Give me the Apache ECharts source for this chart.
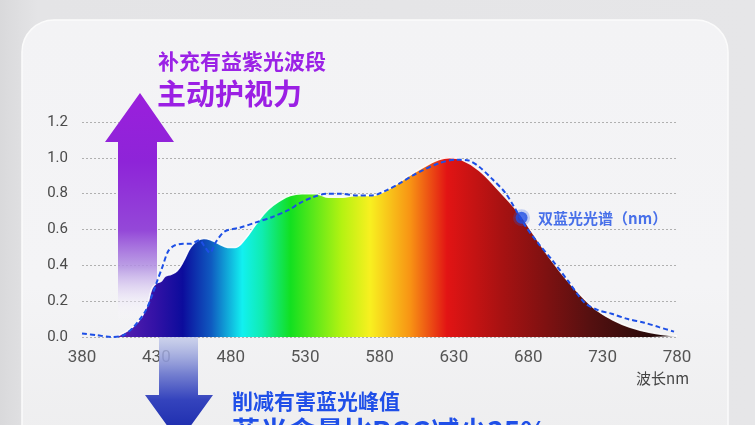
<!DOCTYPE html>
<html>
<head>
<meta charset="utf-8">
<script src="https://cdn.jsdelivr.net/npm/echarts/dist/echarts.min.js"></script>
<style>
  html, body { margin: 0; padding: 0; background: #e3e3e5; }
  #main { width: 755px; height: 425px; }
</style>
</head>
<body>
<div id="main"></div>
<script>
var xTicks = [380, 430, 480, 530, 580, 630, 680, 730, 780];
var yTicks = [0, 0.2, 0.4, 0.6, 0.8, 1.0, 1.2];

// spectrum of the lamp (filled rainbow area)
var spectrumNm = [398, 405, 414, 420, 424, 427, 430, 433, 436, 440, 444, 448, 453, 458, 462, 467, 472, 478, 483, 490,
    497, 505, 513, 520, 528, 537, 546, 555, 565, 575, 587, 598, 610, 620, 627, 635, 647, 660, 674, 683,
    692, 701, 710, 718, 726, 737, 748, 762, 780];
var spectrumVal = [0, 0.01, 0.055, 0.11, 0.18, 0.27, 0.30, 0.31, 0.34, 0.35, 0.37, 0.42, 0.50, 0.54, 0.55, 0.54, 0.52, 0.50, 0.50, 0.55,
    0.63, 0.71, 0.76, 0.79, 0.80, 0.80, 0.78, 0.78, 0.79, 0.79, 0.83, 0.89, 0.95, 0.99, 1.0, 0.99, 0.93, 0.82, 0.69, 0.58,
    0.47, 0.37, 0.28, 0.21, 0.15, 0.095, 0.056, 0.025, 0.005];

// dual blue spectrum (dashed line)
var dualNm = [380, 390, 400, 408, 414, 419, 423, 427, 430, 434, 438, 442, 448, 453, 459, 462, 466, 470, 476, 486,
    497, 508, 519, 527, 535, 545, 553, 565, 575, 585, 594, 602, 609, 620, 632, 640, 647, 656, 665, 678,
    687, 696, 707, 718, 727, 736, 747, 758, 768, 778];
var dualVal = [0.02, 0.01, 0.0, 0.01, 0.05, 0.10, 0.15, 0.23, 0.30, 0.39, 0.48, 0.51, 0.52, 0.52, 0.54, 0.51, 0.47, 0.53, 0.59, 0.61,
    0.64, 0.67, 0.71, 0.75, 0.78, 0.80, 0.80, 0.79, 0.79, 0.82, 0.86, 0.90, 0.93, 0.97, 0.99, 0.985, 0.95, 0.88, 0.80, 0.62,
    0.52, 0.43, 0.31, 0.19, 0.15, 0.13, 0.10, 0.08, 0.055, 0.03];

var markNm = [675.5];
var markVal = [0.665];
var markName = '双蓝光光谱（nm）';

function pairs(xs, ys) {
    var out = [];
    for (var i = 0; i < xs.length; i++) {
        out.push([xs[i], ys[i]]);
    }
    return out;
}

var FONT = '"Noto Sans CJK SC", "Noto Sans", sans-serif';
var NUMFONT = 'Roboto, "Noto Sans", sans-serif';
var chart = echarts.init(document.getElementById('main'));

var option = {
    animation: false,
    backgroundColor: new echarts.graphic.LinearGradient(0, 0, 1, 0, [
        {offset: 0, color: '#d9d9db'},
        {offset: 0.05, color: '#e4e4e6'},
        {offset: 1, color: '#e6e6e8'}
    ]),
    textStyle: {fontFamily: FONT},
    grid: {left: 82, right: 78, top: 122, bottom: 88},
    xAxis: {
        type: 'value',
        min: xTicks[0],
        max: xTicks[xTicks.length - 1],
        interval: 50,
        axisLine: {show: false},
        axisTick: {show: false},
        splitLine: {show: false},
        axisLabel: {color: '#555', fontSize: 17, margin: 12, fontFamily: NUMFONT}
    },
    yAxis: {
        type: 'value',
        min: yTicks[0],
        max: yTicks[yTicks.length - 1],
        interval: 0.2,
        axisLine: {show: false},
        axisTick: {show: false},
        axisLabel: {
            color: '#4a4a4a', fontSize: 15, margin: 14, fontFamily: NUMFONT,
            formatter: function (v) { return v.toFixed(1); }
        },
        splitLine: {lineStyle: {type: [2, 2], color: '#b0b0b0', width: 1}}
    },
    graphic: [
        {   // card
            type: 'rect', z: -100,
            shape: {x: 22, y: 20, width: 706, height: 440, r: 32},
            style: {
                fill: new echarts.graphic.LinearGradient(0, 0, 0, 1, [
                    {offset: 0, color: '#f3f3f5'},
                    {offset: 0.6, color: '#f4f4f6'},
                    {offset: 1, color: '#ededee'}
                ]),
                stroke: '#fbfbfb', lineWidth: 1.5
            }
        },
        {   // purple up arrow
            type: 'polygon', z: 1,
            shape: {points: [[140, 93], [174, 142], [157, 142], [157, 322], [118, 322], [118, 142], [105, 142]]},
            style: {
                fill: new echarts.graphic.LinearGradient(0, 0, 0, 1, [
                    {offset: 0, color: '#9a1fdc'},
                    {offset: 0.3, color: '#8e24d8'},
                    {offset: 0.6, color: '#9448d8'},
                    {offset: 0.76, color: 'rgba(178,145,226,0.85)'},
                    {offset: 0.9, color: 'rgba(235,228,248,0.5)'},
                    {offset: 1, color: 'rgba(255,255,255,0)'}
                ])
            }
        },
        {   // blue down arrow
            type: 'polygon', z: 1,
            shape: {points: [[159, 337], [198, 337], [198, 395], [213, 395], [179, 442], [145, 395], [159, 395]]},
            style: {
                fill: new echarts.graphic.LinearGradient(0, 0, 0, 1, [
                    {offset: 0, color: 'rgba(190,198,232,0.7)'},
                    {offset: 0.35, color: '#7580d0'},
                    {offset: 0.6, color: '#3443bd'},
                    {offset: 1, color: '#1424a8'}
                ])
            }
        },
        {
            type: 'text', z: 5, left: 158, top: 51,
            style: {text: '补充有益紫光波段', fill: '#9b22e6', font: 'bold 21px ' + FONT}
        },
        {
            type: 'text', z: 5, left: 157, top: 79,
            style: {text: '主动护视力', fill: '#9b1fe4', font: 'bold 29px ' + FONT}
        },
        {
            type: 'text', z: 5, left: 232, top: 391,
            style: {text: '削减有害蓝光峰值', fill: '#1f4fe8', font: 'bold 21px ' + FONT}
        },
        {
            type: 'text', z: 5, left: 232, top: 417,
            style: {text: '蓝光含量比RGG减少35%', fill: '#1f4fe8', font: 'bold 28px ' + FONT}
        },
        {
            type: 'text', z: 5, left: 636, top: 371,
            style: {text: '波长nm', fill: '#444', font: '15px ' + FONT}
        }
    ],
    series: [
        {
            name: '光谱',
            type: 'line',
            smooth: 0.4,
            symbol: 'none',
            data: pairs(spectrumNm, spectrumVal),
            lineStyle: {color: 'rgba(255,255,255,0.9)', width: 1.5},
            areaStyle: {
                opacity: 1,
                color: new echarts.graphic.LinearGradient(0, 0, 1, 0, [
                    {offset: 0, color: '#6424b4'},
                    {offset: 0.08, color: '#3412a6'},
                    {offset: 0.13, color: '#0c0c9c'},
                    {offset: 0.18, color: '#0f5ac0'},
                    {offset: 0.235, color: '#12f0f0'},
                    {offset: 0.27, color: '#10ecb0'},
                    {offset: 0.32, color: '#12e020'},
                    {offset: 0.41, color: '#b4f212'},
                    {offset: 0.46, color: '#f8f020'},
                    {offset: 0.53, color: '#f89414'},
                    {offset: 0.595, color: '#e21414'},
                    {offset: 0.69, color: '#a81212'},
                    {offset: 0.85, color: '#541010'},
                    {offset: 1, color: '#160808'}
                ])
            },
            z: 2
        },
        {
            name: markName,
            type: 'line',
            smooth: 0.3,
            symbol: 'none',
            data: pairs(dualNm, dualVal),
            lineStyle: {color: '#1d4fe6', width: 2, type: [5, 3]},
            z: 3
        },
        {
            name: 'mark',
            type: 'scatter',
            symbolSize: 12,
            data: pairs(markNm, markVal),
            itemStyle: {color: '#1a4be4', borderColor: 'rgba(40,90,230,0.3)', borderWidth: 5},
            label: {
                show: true, position: 'right', distance: 8,
                formatter: markName, color: '#1d4fe6', fontSize: 15, fontWeight: 'bold', fontFamily: FONT
            },
            z: 4
        }
    ]
};

chart.setOption(option);
</script>
</body>
</html>
